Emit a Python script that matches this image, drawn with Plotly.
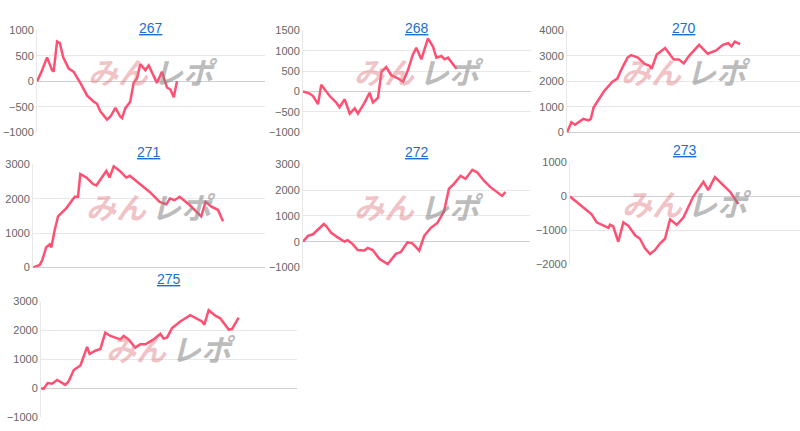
import plotly.graph_objects as go

W, H = 800, 431

# x is position along the plot width in percent, y is the value
x267 = [0, 2, 4.4, 6.6, 7.3, 8.8, 10, 11.5, 13.9, 16, 19, 22, 24.9, 26.3, 27.8, 30.7, 32.2, 34.4, 36.5, 37.3,
        38.7, 40.9, 42.4, 43.9, 45.3, 47.5, 49, 52.6, 54.8, 57, 58.5, 60, 61.4]
y267 = [0, 190, 470, 220, 190, 780, 750, 470, 250, 190, -30, -280, -400, -440, -590, -750, -690, -520, -690, -720,
        -530, -400, -30, 60, 340, 220, 310, -30, 190, -120, -160, -310, 0]

x268 = [0, 2.9, 4.4, 6.6, 8, 9.5, 11.7, 14.6, 16, 18.3, 20.5, 22.7, 24.1, 27, 29.2, 30.7, 32.9, 34.4, 36.5, 38.7,
        41.7, 43.9, 46, 48.2, 49.7, 51.9, 54.8, 57, 58.5, 60.7, 62.1, 63.6, 66.5, 67.3]
y268 = [0, -50, -110, -310, 165, 60, -110, -270, -385, -190, -540, -410, -540, -270, -30, -270, -150, 480, 600, 400,
        320, 240, 520, 910, 1070, 790, 1300, 1100, 830, 870, 790, 830, 600, 560]

x270 = [0, 1.9, 3.4, 7, 9.2, 10.2, 11.4, 13.6, 15.8, 19.4, 21.6, 23.8, 26, 27.5, 30.4, 33.3, 35.5, 36.3, 38.5, 42.1,
        45.8, 48, 50.1, 52.3, 56.7, 60.4, 64, 66.9, 69.2, 70.6, 72, 74.3]
y270 = [0, 400, 300, 530, 470, 530, 970, 1290, 1600, 1980, 2110, 2550, 2930, 3030, 2930, 2680, 2610, 2490, 3050, 3310,
        2860, 2860, 2700, 2990, 3430, 3080, 3210, 3430, 3500, 3370, 3560, 3460]

x271 = [0, 2.9, 4, 5.7, 7.2, 7.9, 9.3, 10.8, 14.4, 18, 19.4, 20.4, 23, 25.9, 27.3, 31.6, 33, 34.8, 37.4, 40.2,
        41.7, 46, 50.3, 54.6, 57.5, 59, 61, 63.2, 67.5, 72.5, 74.4, 76.9, 79.7, 81.9]
y271 = [0, 75, 215, 590, 670, 590, 1070, 1490, 1730, 2060, 2060, 2720, 2620, 2430, 2390, 2810, 2620, 2950, 2810, 2620,
        2670, 2430, 2200, 1910, 1840, 2010, 1960, 2060, 1820, 1490, 1910, 1770, 1680, 1350]

x272 = [0, 2.2, 4.4, 6.6, 9.2, 10.2, 12.4, 15.4, 18.3, 19.7, 21.9, 24.1, 27, 28.5, 30.7, 33.6, 37.3, 40.9, 43.1, 46,
        48.2, 51.2, 53.4, 56.3, 59.2, 62.1, 64.3, 66.5, 69.4, 71.6, 74.6, 76.8, 79.7, 82.6, 85.5, 87.7, 89.2]
y272 = [0, 230, 290, 480, 690, 610, 350, 160, 10, 60, -90, -320, -340, -240, -320, -660, -870, -470, -400, -25,
        -60, -340, 230, 540, 730, 1170, 2060, 2250, 2560, 2440, 2790, 2690, 2370, 2120, 1910, 1780, 1930]

x273 = [0, 2.9, 5.8, 9.4, 11.6, 14.5, 16.7, 17.4, 18.8, 21, 23.2, 25.4, 28.3, 30.4, 32.6, 34.8, 37, 39.1, 41.3, 43.5,
        46.4, 49.3, 53.6, 58, 60.1, 63, 66.7, 69.6, 73.2]
y273 = [0, -160, -330, -520, -760, -860, -920, -830, -880, -1330, -760, -860, -1140, -1240, -1520, -1690, -1570, -1380, -1240, -670,
        -830, -620, 0, 430, 190, 570, 330, 140, -220]

x275 = [0, 1, 2.6, 4.3, 6.3, 9.5, 10.8, 12.8, 15.4, 17.3, 18, 19, 21.2, 23.2, 25.1, 27.1, 31, 32.3, 34.2, 36.8,
        38.8, 40.8, 44, 46.6, 47.9, 49.2, 51.2, 54.4, 58.3, 62.9, 63.8, 65.5, 68.1, 70, 73.3, 74.6, 77.2]
y275 = [0, -20, 180, 160, 290, 120, 240, 630, 790, 1300, 1430, 1190, 1300, 1360, 1920, 1810, 1690, 1810, 1690, 1410,
        1520, 1520, 1690, 1880, 1720, 1750, 2080, 2310, 2530, 2310, 2200, 2700, 2510, 2420, 2030, 2050, 2440]

titles = ["267", "268", "270", "271", "272", "273", "275"]
series = [(x267, y267), (x268, y268), (x270, y270), (x271, y271), (x272, y272), (x273, y273), (x275, y275)]
yranges = [(-1000, 1000, 500), (-1000, 1500, 500), (0, 4000, 1000), (0, 3000, 1000),
           (-1000, 3000, 1000), (-2000, 1000, 1000), (-1000, 3000, 1000)]
# pixel boxes: left, right, top, bottom
boxes = [(37, 265, 25, 130), (303, 531, 25, 130), (567, 800, 25, 130),
         (33, 265, 163, 269), (303, 530, 163, 269), (570, 800, 161, 266),
         (41, 297, 304, 423)]

fig = go.Figure()
annotations = []
layout = {}
for i, (t, (xs, ys), (y0, y1, dt), (l, r, tp, bt)) in enumerate(zip(titles, series, yranges, boxes)):
    n = "" if i == 0 else str(i + 1)
    fig.add_trace(go.Scatter(x=xs, y=ys, mode="lines", xaxis="x" + n, yaxis="y" + n,
                             line=dict(color="#ff5073", width=2.5), showlegend=False))
    layout["xaxis" + n] = dict(domain=[l / W, r / W], range=[0, 100], showticklabels=False,
                               showgrid=False, zeroline=False, anchor="y" + n, fixedrange=True)
    layout["yaxis" + n] = dict(domain=[1 - bt / H, 1 - tp / H], range=[y0, y1], dtick=dt,
                               anchor="x" + n, gridcolor="#e8e8e8", zeroline=True,
                               zerolinecolor="#cfcfcf", zerolinewidth=1,
                               showline=True, linecolor="#e8e8e8",
                               tickfont=dict(size=11, color="#666"), ticks="")
    annotations.append(dict(text="<u>%s</u>" % t, x=(l + r) / 2 / W, y=1 - (tp - 13) / H,
                            xref="paper", yref="paper", showarrow=False, xanchor="center",
                            font=dict(size=14, color="#1a6fd0")))
    # watermark
    annotations.append(dict(text="<b><i>みん</i></b>", x=0.5, y=0.6, xref="x%s domain" % n,
                            yref="y%s domain" % n, showarrow=False, xanchor="right",
                            font=dict(size=30, color="rgba(225,120,125,0.45)",
                                      family="Noto Sans CJK JP")))
    annotations.append(dict(text="<b><i>レポ</i></b>", x=0.5, y=0.6, xref="x%s domain" % n,
                            yref="y%s domain" % n, showarrow=False, xanchor="left",
                            font=dict(size=30, color="rgba(130,130,130,0.55)",
                                      family="Noto Sans CJK JP")))

fig.update_layout(width=W, height=H, margin=dict(l=0, r=0, t=0, b=0),
                  plot_bgcolor="white", paper_bgcolor="white",
                  font=dict(family="Liberation Sans, Arial, sans-serif"),
                  annotations=annotations, **layout)
fig.write_html("out.html", config={"displayModeBar": False},
               post_script="document.body.style.margin='0';")
